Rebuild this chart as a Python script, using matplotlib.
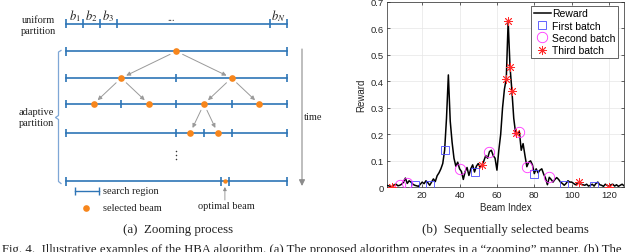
import numpy as np
import matplotlib.pyplot as plt

plt.rcParams['mathtext.fontset'] = 'stix'

# ---- data: (b) sequentially selected beams ----
beam = np.arange(1, 129)
reward = np.array([
    0.008, 0.006, 0.004, 0.002, 0.010, 0.012, 0.006, 0.008, 0.012, 0.020,
    0.035, 0.015, 0.025, 0.020, 0.012, 0.008, 0.006, 0.004, 0.012, 0.020,
    0.014, 0.025, 0.018, 0.008, 0.020, 0.032, 0.022, 0.044, 0.055, 0.070,
    0.090, 0.140, 0.260, 0.424, 0.250, 0.170, 0.110, 0.080, 0.095, 0.070,
    0.060, 0.030, 0.060, 0.075, 0.045, 0.070, 0.085, 0.058, 0.080, 0.090,
    0.075, 0.085, 0.100, 0.120, 0.110, 0.135, 0.140, 0.120, 0.110, 0.065,
    0.140, 0.200, 0.300, 0.370, 0.410, 0.627, 0.454, 0.365, 0.260, 0.204,
    0.200, 0.210, 0.140, 0.165, 0.120, 0.078, 0.095, 0.100, 0.085, 0.052,
    0.070, 0.055, 0.065, 0.070, 0.050, 0.035, 0.010, 0.038, 0.030, 0.020,
    0.030, 0.037, 0.030, 0.020, 0.015, 0.008, 0.015, 0.025, 0.020, 0.020,
    0.015, 0.010, 0.015, 0.020, 0.012, 0.010, 0.008, 0.012, 0.005, 0.008,
    0.012, 0.005, 0.015, 0.020, 0.010, 0.008, 0.004, 0.012, 0.008, 0.003,
    0.010, 0.012, 0.005, 0.010, 0.004, 0.008, 0.012, 0.006])
first_batch = [16, 24, 32, 48, 80, 96, 112]
second_batch = [8, 12, 40, 56, 72, 76, 88]
third_batch = [4, 52, 65, 66, 67, 68, 70, 104, 120]

x_ticks = [20, 40, 60, 80, 100, 120]
y_ticks = [0, 0.1, 0.2, 0.3, 0.4, 0.5, 0.6, 0.7]
y_ticklabels = ['0', '0.1', '0.2', '0.3', '0.4', '0.5', '0.6', '0.7']
legend_labels = ['Reward', 'First batch', 'Second batch', 'Third batch']

# ---- data: (a) zooming process (positions as fraction of beam range) ----
uniform_ticks = [0, 1/13, 2/13, 3/13, 12/13, 1]
uniform_labels = ['$b_1$', '$b_2$', '$b_3$', '$b_N$']
rows_ticks = [[0, 1], [0, .5, 1], [0, .25, .5, .75, 1],
              [0, .5, .625, .75, 1], [0, .702, .737, 1]]
rows_dots = [[.5], [.25, .75], [.125, .375, .625, .875], [9/16, 11/16], [.72]]
# (parent row, parent dot, child row, child dot)
tree = [(0, 0, 1, 0), (0, 0, 1, 1), (1, 0, 2, 0), (1, 0, 2, 1),
        (1, 1, 2, 2), (1, 1, 2, 3), (2, 2, 3, 0), (2, 2, 3, 1)]

blue = '#2E75B6'
orange = '#F7861C'
arrow_gray = '#9a9a9a'
serif = 'Liberation Serif'
sans = 'Liberation Sans'

fig = plt.figure(figsize=(6.4, 2.53), dpi=100)

# canvas axes in pixel units for the diagram
ax0 = fig.add_axes([0, 0, 1, 1])
ax0.set_xlim(0, 640)
ax0.set_ylim(253, 0)
ax0.axis('off')

x0, x1 = 66, 286.7
uni_y = 24.5
row_y = [52.3, 79, 105, 134, 182.3]
th = 4.2


def px(f):
    return x0 + f * (x1 - x0)


# uniform partition
ax0.plot([x0, x1], [uni_y, uni_y], color=blue, lw=1.2)
ax0.vlines([px(f) for f in uniform_ticks], uni_y - th, uni_y + th, color=blue, lw=1.2)
mids = [(uniform_ticks[i] + uniform_ticks[i + 1]) / 2 for i in range(3)]
mids.append((uniform_ticks[-2] + uniform_ticks[-1]) / 2)
for m, lab in zip(mids, uniform_labels):
    ax0.text(px(m), 16.5, lab, ha='center', va='center', fontsize=9, color='#222222')
ax0.text(171, 18.5, '...', ha='center', va='center', fontsize=7, family=serif, color='#222222')
ax0.text(38, 26, 'uniform\npartition', ha='center', va='center', fontsize=7.5,
         family=serif, color='#222222', linespacing=1.15)

# adaptive rows
for i, (tk, dots) in enumerate(zip(rows_ticks, rows_dots)):
    y = row_y[i]
    ax0.plot([x0, x1], [y, y], color=blue, lw=1.2, zorder=2)
    ax0.vlines([px(f) for f in tk], y - th, y + th, color=blue, lw=1.2, zorder=2)
    ms = 3.2 if i == 4 else 4.8
    ax0.plot([px(f) for f in dots], [y] * len(dots), 'o', color=orange, ms=ms,
             mec='none', zorder=3)

for pr, pd, cr, cd in tree:
    ax0.annotate('', xy=(px(rows_dots[cr][cd]), row_y[cr]),
                 xytext=(px(rows_dots[pr][pd]), row_y[pr]),
                 arrowprops=dict(arrowstyle='-|>', color=arrow_gray, lw=0.7,
                                 mutation_scale=6, shrinkA=5, shrinkB=4))

# vertical ellipsis
ax0.plot([176, 176, 176], [152, 156, 160], 'o', color='#333333', ms=1.1, mec='none')

# bracket for adaptive partition
ax0.plot([61, 58.5, 58.5, 55.5, 58.5, 58.5, 61],
         [51.5, 53, 116.5, 118.5, 120.5, 182.5, 184.5], color='#7FA7D6', lw=0.9)
ax0.text(36, 118, 'adaptive\npartition', ha='center', va='center', fontsize=7.5,
         family=serif, color='#222222', linespacing=1.15)

# time arrow
ax0.annotate('', xy=(302, 187), xytext=(302, 50),
             arrowprops=dict(arrowstyle='-|>', color='#8c8c8c', lw=0.8,
                             mutation_scale=9, shrinkA=0, shrinkB=0))
ax0.text(304, 118, 'time', ha='left', va='center', fontsize=7.5, family=serif, color='#222222')

# optimal beam arrow
ax0.annotate('', xy=(px(rows_dots[4][0]), 188), xytext=(px(rows_dots[4][0]), 201),
             arrowprops=dict(arrowstyle='-|>', color='#8c8c8c', lw=0.6,
                             mutation_scale=5, shrinkA=0, shrinkB=0))
ax0.text(226, 206.5, 'optimal beam', ha='center', va='center', fontsize=7.5,
         family=serif, color='#222222')

# legend of (a)
ax0.plot([75.3, 99.3], [191.7, 191.7], color=blue, lw=1.0)
ax0.vlines([75.3, 99.3], 191.7 - 3.8, 191.7 + 3.8, color=blue, lw=1.0)
ax0.text(103.3, 192, 'search region', ha='left', va='center', fontsize=7.5,
         family=serif, color='#222222')
ax0.plot([86], [208.7], 'o', color=orange, ms=4.8, mec='none')
ax0.text(103.3, 208.7, 'selected beam', ha='left', va='center', fontsize=7.5,
         family=serif, color='#222222')

# sub-captions and figure caption
ax0.text(178, 230, '(a)  Zooming process', ha='center', va='center', fontsize=9.3,
         family=serif, color='#222222')
ax0.text(505, 230, '(b)  Sequentially selected beams', ha='center', va='center',
         fontsize=9.3, family=serif, color='#222222')
ax0.text(2, 244, 'Fig. 4.  Illustrative examples of the HBA algorithm. (a) The proposed '
         'algorithm operates in a \u201czooming\u201d manner. (b) The',
         ha='left', va='top', fontsize=9.2, family=serif, color='#222222')

# ---- (b) reward chart ----
ax = fig.add_axes([386.7 / 640, 1 - 188.4 / 253, (624 - 386.7) / 640, (188.4 - 2.7) / 253])
ax.plot(beam, reward, color='black', lw=1.1, label=legend_labels[0], zorder=3)
idx1 = np.array(first_batch) - 1
idx2 = np.array(second_batch) - 1
idx3 = np.array(third_batch) - 1
ax.plot(beam[idx1], reward[idx1], 's', ls='none', mfc='none', mec='#4a4aff', mew=0.6,
        ms=6, label=legend_labels[1], zorder=4)
ax.plot(beam[idx2], reward[idx2], 'o', ls='none', mfc='none', mec='#ff33ff', mew=0.6,
        ms=7.5, label=legend_labels[2], zorder=4)
ax.plot(beam[idx3], reward[idx3], marker=(8, 2, 0), ls='none', color='#ff2a2a', mew=0.6,
        ms=6.5, label=legend_labels[3], zorder=5)

ax.set_xlim(1, 128)
ax.set_ylim(0, 0.7)
ax.set_xticks(x_ticks)
ax.set_yticks(y_ticks)
ax.set_yticklabels(y_ticklabels)
ax.grid(True, color='#e6e6e6', lw=0.5)
ax.set_axisbelow(True)
ax.tick_params(direction='in', length=2.5, width=0.5, labelsize=6.8, colors='#262626',
               top=True, right=True, pad=2)
for lab in ax.get_xticklabels() + ax.get_yticklabels():
    lab.set_family(sans)
for s in ax.spines.values():
    s.set_linewidth(0.5)
    s.set_color('#262626')
ax.set_xlabel('Beam Index', fontsize=7, family=sans, color='#262626', labelpad=2)
ax.set_ylabel('Reward', fontsize=7, family=sans, color='#262626', labelpad=3)

leg = ax.legend(loc='upper right', bbox_to_anchor=(0.975, 0.978),
                prop={'family': sans, 'size': 7.5}, fancybox=False, framealpha=1,
                edgecolor='#262626', handlelength=1.6, handletextpad=0.15,
                borderpad=0.25, labelspacing=0.22, borderaxespad=0)
leg.get_frame().set_linewidth(0.5)

fig.savefig('out.png', dpi=100)
